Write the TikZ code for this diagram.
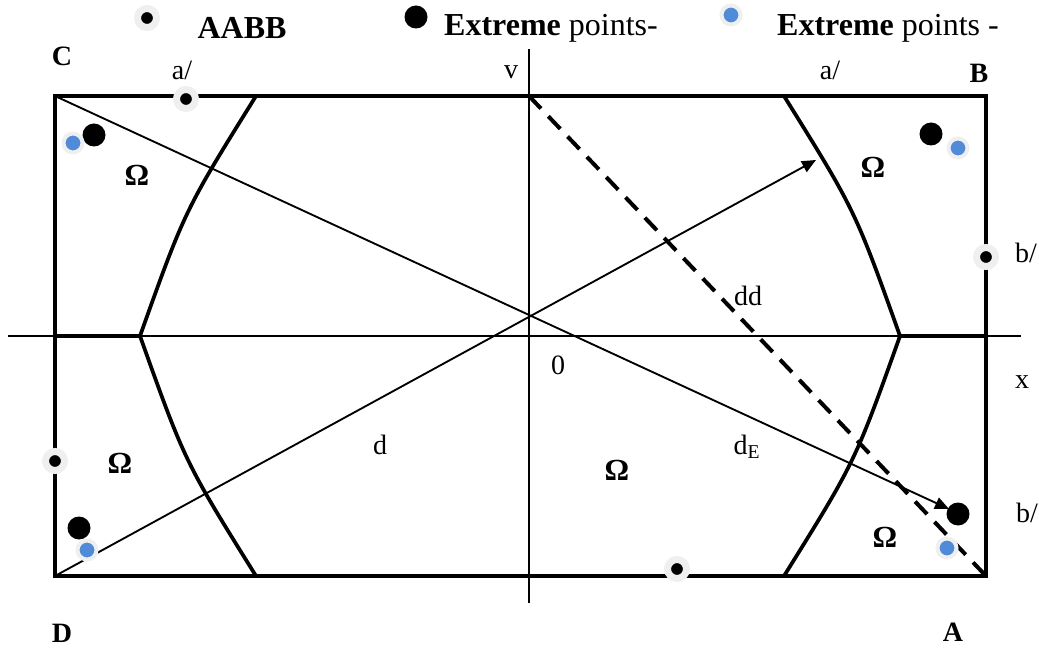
\documentclass[tikz,border=0pt]{standalone}
\usepackage{fontspec}
\setmainfont{Liberation Serif}
\usetikzlibrary{arrows.meta}
\definecolor{halo}{HTML}{EFEFEF}
\definecolor{extblue}{HTML}{4F8BD8}
\tikzset{
  aabbpt/.style={circle,inner sep=0pt,minimum size=14.25pt,fill=black,draw=halo,line width=5.25pt},
  extpt/.style={circle,inner sep=0pt,minimum size=17.25pt,fill=black},
  bluept/.style={circle,inner sep=0pt,minimum size=14.25pt,fill=extblue,draw=halo,line width=3pt},
  lbl/.style={font=\fontsize{21}{24}\selectfont,inner sep=0pt},
  cornerlbl/.style={font=\fontsize{21}{24}\selectfont\bfseries,inner sep=0pt},
  omegalbl/.style={font=\fontsize{23}{26}\selectfont\bfseries,inner sep=0pt},
  legendlbl/.style={font=\fontsize{24}{28}\selectfont,inner sep=0pt},
  axisline/.style={line width=1.4pt},
  border/.style={line width=2.8pt},
  vec/.style={line width=1.4pt,-{Triangle[length=10.5pt,width=9pt]}},
  ddline/.style={line width=3pt,dash pattern=on 13pt off 8pt},
}
\begin{document}
\begin{tikzpicture}[x=0.75pt,y=-0.75pt]
  \useasboundingbox (0,0) rectangle (1039,648);
  % corners of the box
  \coordinate (C) at (55,96);
  \coordinate (B) at (986,96);
  \coordinate (A) at (986,576);
  \coordinate (D) at (55,576);
  % axes
  \coordinate (xl) at (8,336);
  \coordinate (xr) at (1021,336);
  \coordinate (vtop) at (529,49);
  \coordinate (vbot) at (529,603);
  \draw[axisline] (xl) -- (xr);
  \draw[axisline] (vtop) -- (vbot);
  % AABB
  \draw[border] (C) rectangle (A);
  % boundary of the region
  \draw[border] (256,96) .. controls (185,210) .. (140,336) .. controls (185,462) .. (256,576);
  \draw[border] (784,96) .. controls (855,210) .. (900,336) .. controls (855,462) .. (784,576);
  \draw[border] (55,336) -- (140,336);
  \draw[border] (900,336) -- (986,336);
  % distances
  \coordinate (dEend) at (949,509);
  \coordinate (dend) at (816,160);
  \coordinate (vB) at (529,96);
  \draw[vec] (C) -- (dEend);
  \draw[vec] (D) -- (dend);
  \draw[ddline] (vB) -- (A);
  % points: AABB, extreme (black), extreme (blue)
  \foreach \px/\py [count=\i] in {147/18, 186/99, 986/257, 55/461, 677/569}
    \node[aabbpt] (aabb\i) at (\px,\py) {};
  \foreach \px/\py [count=\i] in {416/17, 94/135, 931/134, 79/528, 958/514}
    \node[extpt] (ext\i) at (\px,\py) {};
  \foreach \px/\py [count=\i] in {731/15, 73/143, 958/148, 87/550, 947/548}
    \node[bluept] (blue\i) at (\px,\py) {};
  % legend
  \node[legendlbl] (legaabb) at (242,28) {\textbf{AABB}};
  \node[legendlbl] (legext) at (551,28) {\textbf{Extreme} points-};
  \node[legendlbl] (legblue) at (888,28) {\textbf{Extreme} points -};
  % corner names
  \node[cornerlbl] (lblC) at (62,56) {C};
  \node[cornerlbl] (lblB) at (979,73) {B};
  \node[cornerlbl] (lblD) at (62,633) {D};
  \node[cornerlbl] (lblA) at (953,632) {A};
  % regions
  \foreach \px/\py [count=\i] in {137/175, 873/167, 120/463, 617/470, 885/537}
    \node[omegalbl] (om\i) at (\px,\py) {Ω};
  % other labels
  \node[lbl] (lbla1) at (182,70) {a/};
  \node[lbl] (lbla2) at (830,70) {a/};
  \node[lbl] (lblv) at (511,72) {v};
  \node[lbl] (lblb1) at (1026,253) {b/};
  \node[lbl] (lblb2) at (1027,513) {b/};
  \node[lbl] (lblx) at (1022,382) {x};
  \node[lbl] (lblo) at (558,365) {0};
  \node[lbl] (lbldd) at (748,296) {dd};
  \node[lbl] (lbld) at (380,445) {d};
  \node[lbl] (lbldE) at (747,447) {d\textsubscript{E}};
\end{tikzpicture}
\end{document}
